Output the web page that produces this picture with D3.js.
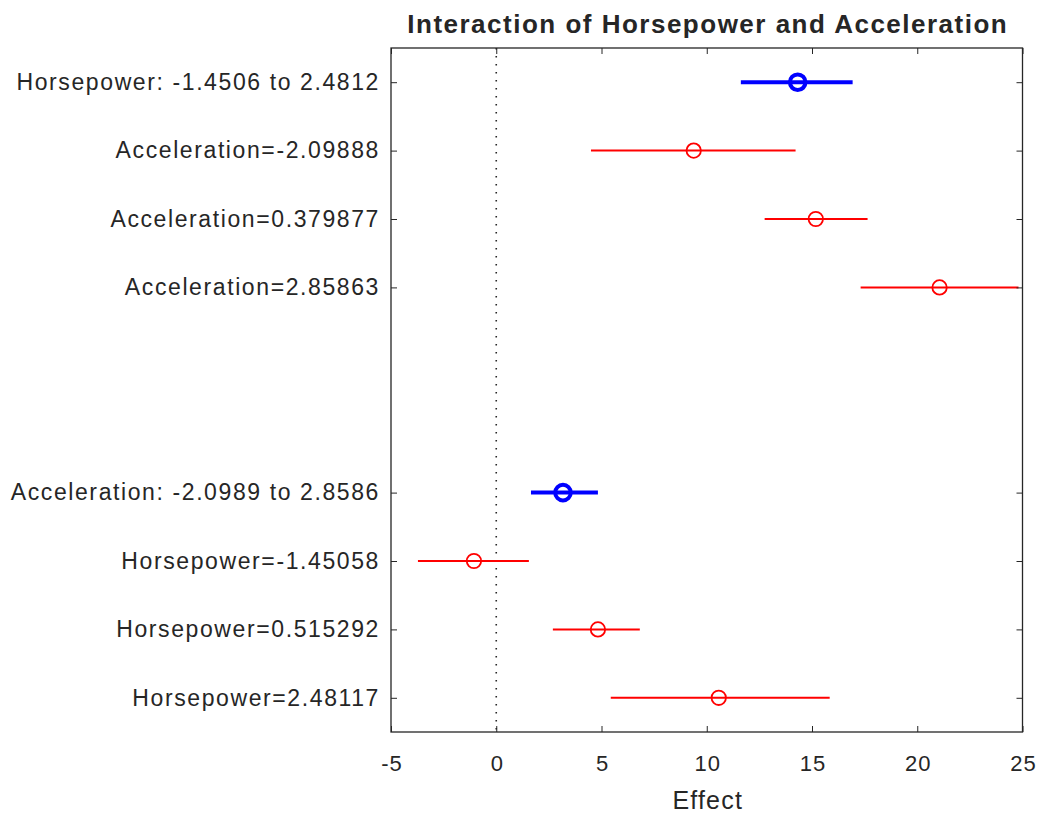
<!DOCTYPE html>
<html>
<head>
<meta charset="utf-8">
<script src="https://cdn.jsdelivr.net/npm/d3@7"></script>
<style>
  html, body { margin: 0; padding: 0; background: #fff; }
  svg { display: block; }
  text { font-family: "Liberation Sans", Arial, Helvetica, sans-serif; fill: #262626; }
</style>
</head>
<body>
<script>
// ---- data ----
const rowLabels = [
  "Horsepower: -1.4506 to 2.4812",
  "Acceleration=-2.09888",
  "Acceleration=0.379877",
  "Acceleration=2.85863",
  "Acceleration: -2.0989 to 2.8586",
  "Horsepower=-1.45058",
  "Horsepower=0.515292",
  "Horsepower=2.48117"
];
const rowPositions = [1, 2, 3, 4, 7, 8, 9, 10];
const effects = [14.32, 9.38, 15.18, 21.06, 3.17, -1.06, 4.83, 10.57];
const lowerCI = [11.62, 4.50, 12.75, 17.31, 1.65, -3.72, 2.69, 5.44];
const upperCI = [16.93, 14.22, 17.64, 24.81, 4.83, 1.55, 6.82, 15.84];
const rowKinds = ["main", "cond", "cond", "cond", "main", "cond", "cond", "cond"];
const xTicks = [-5, 0, 5, 10, 15, 20, 25];
const titleText = "Interaction of Horsepower and Acceleration";
const xLabel = "Effect";

const W = 1041, H = 813;
const margin = { left: 391, right: 1041 - 1022.5, top: 48, bottom: 813 - 732 };

const svg = d3.select("body").append("svg").attr("width", W).attr("height", H);

const x = d3.scaleLinear().domain([-5, 25]).range([margin.left, W - margin.right]);
const y = d3.scaleLinear().domain([0.5, 10.5]).range([margin.top, H - margin.bottom]);

const axisColor = "#262626";
const x0 = x.range()[0], x1 = x.range()[1], y0 = y.range()[0], y1 = y.range()[1];

// zero reference line (dotted)
svg.append("line")
  .attr("x1", x(0)).attr("x2", x(0)).attr("y1", y0).attr("y2", y1)
  .attr("stroke", "#262626").attr("stroke-width", 1.6)
  .attr("stroke-dasharray", "1.6,6.4");

// data
const rows = rowLabels.map((l, i) => ({
  label: l, pos: rowPositions[i], eff: effects[i], lo: lowerCI[i], hi: upperCI[i], kind: rowKinds[i]
}));

const g = svg.append("g");
rows.forEach(d => {
  const main = d.kind === "main";
  const col = main ? "#0000ff" : "#ff0000";
  g.append("line")
    .attr("x1", x(d.lo)).attr("x2", x(d.hi))
    .attr("y1", y(d.pos)).attr("y2", y(d.pos))
    .attr("stroke", col).attr("stroke-width", main ? 4 : 2);
  g.append("circle")
    .attr("cx", x(d.eff)).attr("cy", y(d.pos))
    .attr("r", main ? 7.8 : 7.2)
    .attr("fill", "none").attr("stroke", col)
    .attr("stroke-width", main ? 4 : 1.8);
});

// axes
const xAxisB = d3.axisBottom(x).tickValues(xTicks).tickFormat(d => String(d))
  .tickSizeInner(-6).tickSizeOuter(0).tickPadding(23);
const gxb = svg.append("g").attr("transform", `translate(0,${y1})`).call(xAxisB);
gxb.selectAll("text").attr("font-size", 22).style("letter-spacing", "1px")
  .attr("dx", 0.5)
  .attr("font-family", "Liberation Sans, Arial, sans-serif").attr("fill", axisColor);

const xAxisT = d3.axisTop(x).tickValues(xTicks).tickFormat("")
  .tickSizeInner(-6).tickSizeOuter(0);
svg.append("g").attr("transform", `translate(0,${y0})`).call(xAxisT);

const yAxisL = d3.axisLeft(y).tickValues(rowPositions)
  .tickFormat((d, i) => rowLabels[i]).tickSizeInner(-6).tickSizeOuter(0).tickPadding(11);
const gyl = svg.append("g").attr("transform", `translate(${x0},0)`).call(yAxisL);
gyl.selectAll("text").attr("font-size", 23).style("letter-spacing", "1.6px")
  .attr("font-family", "Liberation Sans, Arial, sans-serif").attr("fill", axisColor);

const yAxisR = d3.axisRight(y).tickValues(rowPositions).tickFormat("")
  .tickSizeInner(-6).tickSizeOuter(0);
svg.append("g").attr("transform", `translate(${x1},0)`).call(yAxisR);

svg.selectAll(".domain").remove();
svg.selectAll(".tick line").attr("stroke", axisColor).attr("stroke-width", 1);

// box
svg.append("rect")
  .attr("x", x0).attr("y", y0).attr("width", x1 - x0).attr("height", y1 - y0)
  .attr("fill", "none").attr("stroke", axisColor).attr("stroke-width", 1.3);

// title
svg.append("text")
  .attr("x", (x0 + x1) / 2 + 1).attr("y", 33)
  .attr("text-anchor", "middle")
  .attr("font-size", 26).attr("font-weight", "bold")
  .style("letter-spacing", "1.5px")
  .attr("fill", "#000")
  .text(titleText);

// x label
svg.append("text")
  .attr("x", (x0 + x1) / 2 + 1).attr("y", 809)
  .attr("text-anchor", "middle")
  .attr("font-size", 25)
  .style("letter-spacing", "1.2px")
  .text(xLabel);
</script>
</body>
</html>
